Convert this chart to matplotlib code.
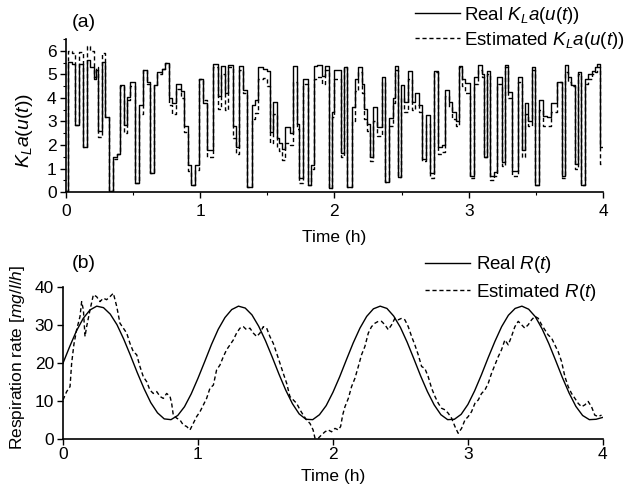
import numpy as np
import matplotlib
matplotlib.use("Agg")
import matplotlib.pyplot as plt
from matplotlib.ticker import MultipleLocator

plt.rcParams['font.family'] = ['Liberation Sans', 'DejaVu Sans']
plt.rcParams['mathtext.fontset'] = 'custom'
plt.rcParams['mathtext.rm'] = 'Liberation Sans'
plt.rcParams['mathtext.it'] = 'Liberation Sans:italic'
plt.rcParams['mathtext.bf'] = 'Liberation Sans:bold'

# ---------------- data: panel (a) step signals ----------------
kla_t = [0.000, 0.017, 0.045, 0.072, 0.100, 0.127, 0.159, 0.183, 0.208, 0.225,
         0.240, 0.270, 0.295, 0.320, 0.350, 0.382, 0.407, 0.432, 0.456, 0.481,
         0.514, 0.548, 0.576, 0.605, 0.625, 0.660, 0.682, 0.715, 0.739, 0.772,
         0.789, 0.821, 0.856, 0.883, 0.913, 0.933, 0.963, 0.995, 1.020, 1.050,
         1.100, 1.136, 1.156, 1.186, 1.210, 1.243, 1.268, 1.293, 1.323, 1.352,
         1.385, 1.410, 1.434, 1.471, 1.497, 1.521, 1.541, 1.571, 1.590, 1.608,
         1.633, 1.670, 1.690, 1.720, 1.739, 1.769, 1.806, 1.826, 1.849, 1.869,
         1.906, 1.931, 1.960, 1.980, 1.995, 2.047, 2.072, 2.097, 2.130, 2.154,
         2.179, 2.204, 2.221, 2.241, 2.266, 2.290, 2.320, 2.353, 2.378, 2.410,
         2.435, 2.452, 2.477, 2.497, 2.519, 2.551, 2.576, 2.601, 2.633, 2.650,
         2.680, 2.713, 2.742, 2.775, 2.800, 2.824, 2.854, 2.879, 2.904, 2.929,
         2.949, 2.973, 3.010, 3.043, 3.072, 3.098, 3.115, 3.135, 3.159, 3.190,
         3.214, 3.246, 3.271, 3.296, 3.325, 3.370, 3.395, 3.420, 3.445, 3.470,
         3.494, 3.524, 3.556, 3.586, 3.611, 3.656, 3.693, 3.718, 3.742, 3.762,
         3.792, 3.810, 3.835, 3.867, 3.891, 3.917, 3.941, 3.958, 3.978, 4.000]

kla_real = [0.05, 5.55, 5.45, 2.85, 5.45, 1.9, 5.6, 5.3, 4.8, 5.2,
            2.6, 5.55, 3.2, 0.05, 1.5, 1.6, 4.55, 2.85, 4.05, 4.7,
            0.37, 3.7, 5.2, 4.7, 0.8, 4.55, 5.1, 5.25, 5.5, 4.0,
            3.8, 4.6, 4.3, 2.8, 1.15, 0.3, 1.15, 4.8, 3.8, 1.8,
            5.45, 4.1, 5.35, 4.2, 5.4, 2.8, 1.9, 5.35, 4.35, 0.23,
            3.7, 3.9, 5.3, 5.25, 5.15, 2.55, 3.85, 2.3, 2.07, 1.85,
            2.75, 2.5, 5.35, 2.9, 0.6, 4.8, 0.3, 1.15, 5.35, 5.4,
            4.95, 5.35, 0.17, 3.4, 5.2, 1.65, 5.3, 0.23, 3.6, 4.8,
            5.3, 4.6, 3.55, 2.9, 1.5, 3.6, 2.75, 4.9, 0.44, 3.13,
            4.0, 5.35, 0.65, 4.55, 3.85, 5.15, 3.85, 4.2, 3.7, 1.4,
            3.27, 0.8, 5.15, 1.92, 2.0, 4.36, 3.85, 3.42, 3.0, 5.35,
            4.82, 4.65, 0.68, 4.9, 5.4, 5.0, 1.5, 5.15, 0.7, 0.86,
            4.9, 1.29, 5.4, 4.26, 0.9, 4.9, 1.8, 3.77, 3.0, 5.3,
            0.3, 3.9, 3.22, 3.2, 3.8, 4.7, 0.68, 5.4, 4.9, 4.55,
            1.2, 5.1, 0.3, 4.8, 5.0, 5.15, 5.3, 5.43, 1.9, 1.9]

kla_est = [0.05, 6.0, 5.9, 2.85, 5.95, 1.9, 6.2, 6.0, 4.9, 5.3,
           2.35, 5.9, 3.2, 0.05, 1.4, 1.6, 4.5, 2.5, 3.9, 4.5,
           0.37, 3.3, 5.2, 4.6, 0.8, 4.55, 5.0, 5.25, 5.5, 3.7,
           3.3, 4.4, 4.0, 2.55, 0.9, 0.3, 0.95, 4.8, 3.9, 1.5,
           5.3, 3.55, 5.0, 3.5, 5.3, 2.3, 1.6, 5.2, 4.2, 0.23,
           3.1, 3.35, 4.8, 4.85, 4.5, 2.1, 3.3, 1.9, 1.75, 1.35,
           2.1, 2.0, 4.7, 2.7, 0.4, 4.6, 0.3, 1.0, 4.8, 4.9,
           4.6, 5.2, 0.17, 3.2, 4.8, 1.5, 5.3, 0.23, 3.0, 4.3,
           5.1, 4.2, 3.1, 2.6, 1.3, 3.0, 2.4, 4.7, 0.44, 2.8,
           3.8, 5.2, 0.65, 4.0, 3.4, 4.8, 3.5, 3.7, 3.4, 1.3,
           2.9, 0.6, 5.1, 1.6, 1.7, 4.1, 3.6, 3.1, 2.8, 5.3,
           4.5, 4.2, 0.6, 4.6, 5.2, 4.9, 1.5, 5.0, 0.5, 0.7,
           4.6, 1.1, 5.3, 4.0, 0.7, 4.7, 1.5, 3.3, 2.8, 5.2,
           0.3, 3.5, 2.8, 2.8, 3.4, 4.7, 0.6, 5.1, 4.7, 4.5,
           1.0, 5.0, 0.3, 4.6, 4.8, 5.0, 5.1, 5.3, 1.2, 1.2]

# ---------------- data: panel (b) respiration rate ----------------
r_real_t = np.linspace(0, 4, 81)
r_real = [20.0, 24.4, 28.5, 31.8, 34.0, 35.0, 34.6, 32.9, 30.1, 26.3,
          22.0, 17.5, 13.3, 9.6, 6.9, 5.3, 5.1, 6.2, 8.5, 11.9,
          16.0, 20.4, 24.9, 28.9, 32.0, 34.1, 35.0, 34.5, 32.7, 29.7,
          25.9, 21.6, 17.1, 12.9, 9.3, 6.6, 5.2, 5.1, 6.4, 8.8,
          12.3, 16.4, 20.9, 25.3, 29.2, 32.3, 34.3, 35.0, 34.4, 32.4,
          29.4, 25.5, 21.1, 16.6, 12.5, 9.0, 6.4, 5.1, 5.2, 6.5,
          9.1, 12.7, 16.9, 21.4, 25.7, 29.6, 32.6, 34.4, 35.0, 34.2,
          32.2, 29.0, 25.1, 20.7, 16.2, 12.1, 8.6, 6.2, 5.1, 5.2, 5.7]

r_est_t = [0.000, 0.027, 0.052, 0.064, 0.081, 0.101, 0.126, 0.138, 0.151, 0.163,
           0.175, 0.200, 0.225, 0.249, 0.274, 0.299, 0.323, 0.348, 0.373, 0.398,
           0.422, 0.447, 0.472, 0.496, 0.521, 0.546, 0.570, 0.595, 0.620, 0.644,
           0.669, 0.694, 0.719, 0.743, 0.768, 0.793, 0.805, 0.817, 0.842, 0.867,
           0.891, 0.916, 0.941, 0.965, 0.990, 1.015, 1.040, 1.064, 1.089, 1.114,
           1.138, 1.163, 1.188, 1.212, 1.237, 1.262, 1.286, 1.311, 1.336, 1.360,
           1.385, 1.410, 1.435, 1.459, 1.484, 1.509, 1.533, 1.558, 1.583, 1.607,
           1.632, 1.657, 1.681, 1.706, 1.731, 1.756, 1.780, 1.805, 1.830, 1.853,
           1.867, 1.891, 1.916, 1.941, 1.965, 1.990, 2.015, 2.040, 2.057, 2.072,
           2.089, 2.114, 2.138, 2.163, 2.188, 2.212, 2.237, 2.262, 2.286, 2.311,
           2.336, 2.360, 2.385, 2.410, 2.435, 2.459, 2.484, 2.509, 2.533, 2.558,
           2.583, 2.607, 2.632, 2.657, 2.681, 2.706, 2.731, 2.756, 2.781, 2.805,
           2.830, 2.854, 2.879, 2.904, 2.928, 2.953, 2.978, 3.002, 3.027, 3.052,
           3.077, 3.101, 3.126, 3.151, 3.175, 3.200, 3.225, 3.249, 3.274, 3.299,
           3.323, 3.348, 3.373, 3.398, 3.422, 3.447, 3.472, 3.496, 3.521, 3.546,
           3.570, 3.595, 3.620, 3.644, 3.669, 3.694, 3.719, 3.743, 3.768, 3.793,
           3.817, 3.842, 3.867, 3.891, 3.916, 3.940, 3.965, 3.990]

r_est = [10.3, 12.5, 13.8, 20.0, 25.0, 28.8, 32.3, 36.2, 34.0, 27.0,
         29.6, 34.0, 38.0, 37.5, 36.2, 37.1, 36.7, 37.5, 38.4, 34.9,
         30.5, 29.2, 27.9, 25.2, 23.0, 22.2, 19.1, 16.4, 15.1, 12.9,
         12.0, 12.5, 11.2, 10.7, 12.0, 11.2, 9.4, 6.3, 5.5, 5.0,
         3.7, 3.3, 2.4, 4.1, 5.9, 7.2, 9.0, 10.7, 13.4, 14.2,
         18.2, 19.5, 21.7, 23.5, 24.8, 26.1, 27.9, 29.2, 29.6, 28.8,
         29.2, 27.9, 27.0, 27.9, 29.6, 29.2, 27.0, 25.2, 22.6, 20.0,
         17.3, 14.7, 11.2, 10.3, 9.4, 7.7, 6.3, 5.0, 4.1, 2.4,
         0.2, 0.2, 1.1, 1.9, 2.4, 1.9, 2.8, 2.4, 3.3, 6.3,
         8.5, 10.7, 13.8, 16.0, 19.1, 22.2, 24.4, 27.9, 29.6, 30.5,
         31.0, 31.0, 30.1, 28.8, 30.1, 31.8, 31.4, 31.8, 31.4, 29.6,
         27.0, 24.8, 22.2, 19.1, 18.6, 16.4, 13.4, 11.2, 9.4, 8.1,
         7.7, 6.8, 5.5, 3.3, 1.5, 2.8, 5.0, 5.9, 7.2, 9.4,
         10.3, 12.0, 12.9, 14.7, 17.3, 19.5, 21.7, 23.5, 26.1, 24.8,
         27.0, 29.6, 31.0, 30.1, 29.2, 30.1, 31.4, 32.3, 31.8, 30.1,
         28.8, 27.4, 26.6, 24.8, 23.0, 20.4, 16.4, 13.8, 12.0, 10.7,
         9.4, 8.5, 9.0, 9.9, 8.5, 6.3, 5.9, 6.3]

x_ticks = [0, 1, 2, 3, 4]

FS = 12.5      # tick labels / axis labels
LFS = 13.5     # legends
LW = 1.0
DASH = (3.0, 2.0)

fig = plt.figure(figsize=(6.27, 4.93), dpi=100)
ax1 = fig.add_axes([0.1048, 0.6105, 0.857, 0.310])
ax2 = fig.add_axes([0.1005, 0.1095, 0.861, 0.308])

def style(ax):
    for s in ['top', 'right']:
        ax.spines[s].set_visible(False)
    for s in ['left', 'bottom']:
        ax.spines[s].set_linewidth(1.2)
    ax.tick_params(which='major', direction='out', length=4.5, width=1.0,
                   labelsize=FS)
    ax.tick_params(which='minor', direction='out', length=2.5, width=0.8)
    ax.set_xlim(0, 4)
    ax.set_xticks(x_ticks)

# panel (a)
style(ax1)
ax1.step(kla_t, kla_real, where='post', color='black', lw=LW,
         label=r'Real $K_La(u(t))$')
ax1.step(kla_t, kla_est, where='post', color='black', lw=LW,
         dashes=DASH, label=r'Estimated $K_La(u(t))$')
ax1.set_ylim(0, 6.5)
ax1.set_yticks([0, 1, 2, 3, 4, 5, 6])
ax1.yaxis.set_minor_locator(MultipleLocator(0.5))
ax1.xaxis.set_minor_locator(MultipleLocator(0.5))
ax1.tick_params(axis='x', which='major', pad=4)
ax1.tick_params(axis='y', which='major', pad=2)
ax1.set_xlabel('Time (h)', fontsize=FS)
ax1.xaxis.set_label_coords(0.5, -0.25)
ax1.set_ylabel(r'$K_La(u(t))$', fontsize=14)
ax1.yaxis.set_label_coords(-0.057, 0.40)
ax1.legend(loc='upper right', bbox_to_anchor=(1.0, 0.994),
           bbox_transform=fig.transFigure, frameon=False, fontsize=LFS,
           handlelength=2.4, handletextpad=0.25, labelspacing=0.2,
           borderpad=0.1, borderaxespad=0)
fig.text(0.115, 0.955, '(a)', fontsize=14, ha='left', va='center')

# panel (b)
style(ax2)
ax2.plot(r_real_t, r_real, color='black', lw=LW, label=r'Real $R(t)$')
ax2.plot(r_est_t, r_est, color='black', lw=LW, dashes=DASH,
         label=r'Estimated $R(t)$')
ax2.set_ylim(0, 40)
ax2.set_yticks([0, 10, 20, 30, 40])
ax2.tick_params(axis='x', which='major', pad=1)
ax2.tick_params(axis='y', which='major', pad=2)
ax2.set_xlabel('Time (h)', fontsize=FS)
ax2.xaxis.set_label_coords(0.5, -0.2)
ax2.set_ylabel(r'Respiration rate [$mg/l/h$]', fontsize=FS)
ax2.yaxis.set_label_coords(-0.066, 0.54)
ax2.legend(loc='upper right', bbox_to_anchor=(0.955, 0.488),
           bbox_transform=fig.transFigure, frameon=False, fontsize=LFS,
           handlelength=2.4, handletextpad=0.35, labelspacing=0.35,
           borderpad=0.1, borderaxespad=0)
fig.text(0.115, 0.466, '(b)', fontsize=14, ha='left', va='center')

fig.savefig('out.png', dpi=100)
